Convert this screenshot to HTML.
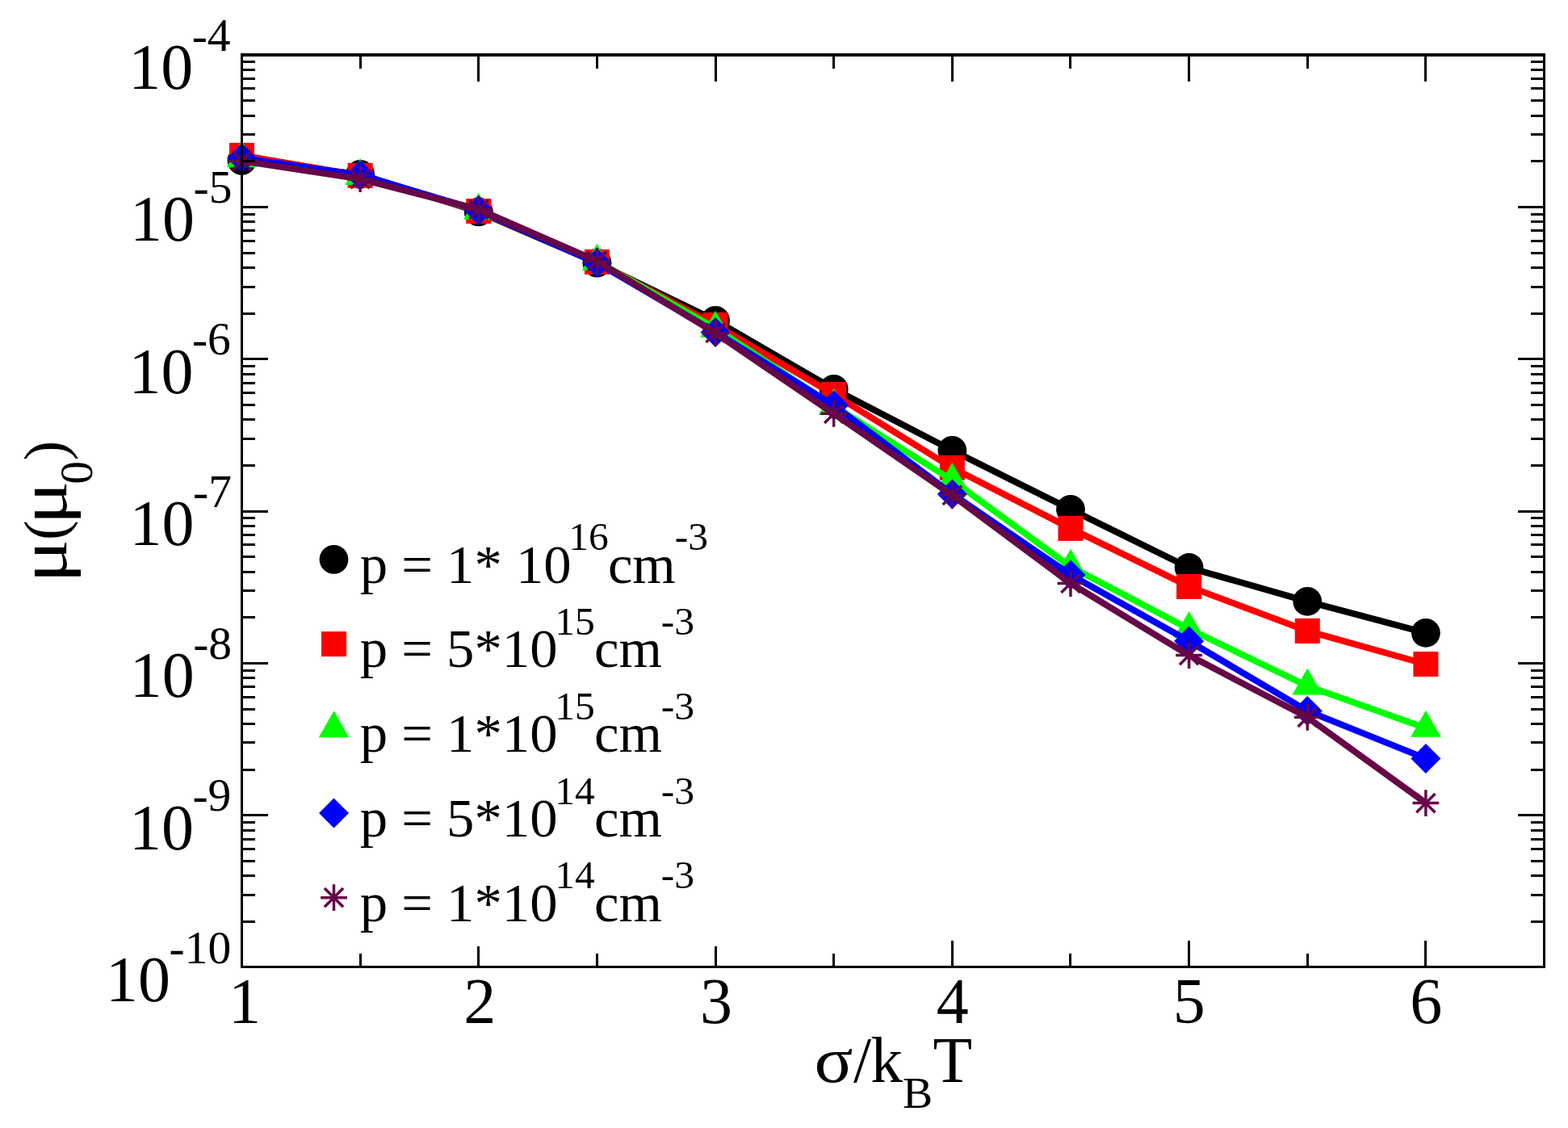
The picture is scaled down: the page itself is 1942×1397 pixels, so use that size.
<!DOCTYPE html>
<html><head><meta charset="utf-8"><title>mobility plot</title>
<style>html,body{margin:0;padding:0;background:#fff;}svg{display:block;}</style>
</head><body>
<svg width="1942" height="1397" viewBox="0 0 1942 1397">
<rect width="1942" height="1397" fill="#ffffff"/>
<polyline points="299.5,198.9 446.14,215.9 592.77,262.4 739.41,325.6 886.05,396.9 1032.68,481.8 1179.32,557.8 1325.95,630.9 1472.59,703 1619.23,744.8 1765.86,783.8" fill="none" stroke="#000000" stroke-width="8" stroke-linejoin="miter" stroke-miterlimit="4"/>
<circle cx="299.5" cy="198.9" r="17.9" fill="#000000"/>
<circle cx="446.14" cy="215.9" r="17.9" fill="#000000"/>
<circle cx="592.77" cy="262.4" r="17.9" fill="#000000"/>
<circle cx="739.41" cy="325.6" r="17.9" fill="#000000"/>
<circle cx="886.05" cy="396.9" r="17.9" fill="#000000"/>
<circle cx="1032.68" cy="481.8" r="17.9" fill="#000000"/>
<circle cx="1179.32" cy="557.8" r="17.9" fill="#000000"/>
<circle cx="1325.95" cy="630.9" r="17.9" fill="#000000"/>
<circle cx="1472.59" cy="703" r="17.9" fill="#000000"/>
<circle cx="1619.23" cy="744.8" r="17.9" fill="#000000"/>
<circle cx="1765.86" cy="783.8" r="17.9" fill="#000000"/>
<polyline points="299.5,192.4 446.14,217.4 592.77,261.5 739.41,324.4 886.05,402.4 1032.68,488.4 1179.32,579.3 1325.95,654.4 1472.59,726.4 1619.23,781.4 1765.86,822.5" fill="none" stroke="#ff0000" stroke-width="8" stroke-linejoin="miter" stroke-miterlimit="4"/>
<rect x="284" y="176.9" width="31" height="31" fill="#ff0000"/>
<rect x="430.64" y="201.9" width="31" height="31" fill="#ff0000"/>
<rect x="577.27" y="246" width="31" height="31" fill="#ff0000"/>
<rect x="723.91" y="308.9" width="31" height="31" fill="#ff0000"/>
<rect x="870.55" y="386.9" width="31" height="31" fill="#ff0000"/>
<rect x="1017.18" y="472.9" width="31" height="31" fill="#ff0000"/>
<rect x="1163.82" y="563.8" width="31" height="31" fill="#ff0000"/>
<rect x="1310.45" y="638.9" width="31" height="31" fill="#ff0000"/>
<rect x="1457.09" y="710.9" width="31" height="31" fill="#ff0000"/>
<rect x="1603.73" y="765.9" width="31" height="31" fill="#ff0000"/>
<rect x="1750.36" y="807" width="31" height="31" fill="#ff0000"/>
<polyline points="299.5,196 446.14,217.9 592.77,260.7 739.41,323.8 886.05,406.7 1032.68,503 1179.32,594.7 1325.95,701.8 1472.59,778.9 1619.23,849.6 1765.86,901.7" fill="none" stroke="#00ff00" stroke-width="8" stroke-linejoin="miter" stroke-miterlimit="4"/>
<path d="M299.5 174L318.3 207L280.7 207Z" fill="#00ff00"/>
<path d="M446.14 195.9L464.94 228.9L427.34 228.9Z" fill="#00ff00"/>
<path d="M592.77 238.7L611.57 271.7L573.97 271.7Z" fill="#00ff00"/>
<path d="M739.41 301.8L758.21 334.8L720.61 334.8Z" fill="#00ff00"/>
<path d="M886.05 384.7L904.85 417.7L867.25 417.7Z" fill="#00ff00"/>
<path d="M1032.68 481L1051.48 514L1013.88 514Z" fill="#00ff00"/>
<path d="M1179.32 572.7L1198.12 605.7L1160.52 605.7Z" fill="#00ff00"/>
<path d="M1325.95 679.8L1344.75 712.8L1307.15 712.8Z" fill="#00ff00"/>
<path d="M1472.59 756.9L1491.39 789.9L1453.79 789.9Z" fill="#00ff00"/>
<path d="M1619.23 827.6L1638.03 860.6L1600.43 860.6Z" fill="#00ff00"/>
<path d="M1765.86 879.7L1784.66 912.7L1747.06 912.7Z" fill="#00ff00"/>
<polyline points="299.5,195.7 446.14,216.8 592.77,260.4 739.41,325.5 886.05,411.4 1032.68,502 1179.32,611.9 1325.95,711.9 1472.59,794 1619.23,880.5 1765.86,939.4" fill="none" stroke="#0000ff" stroke-width="8" stroke-linejoin="miter" stroke-miterlimit="4"/>
<path d="M299.5 177.2L318 195.7L299.5 214.2L281 195.7Z" fill="#0000ff"/>
<path d="M446.14 198.3L464.64 216.8L446.14 235.3L427.64 216.8Z" fill="#0000ff"/>
<path d="M592.77 241.9L611.27 260.4L592.77 278.9L574.27 260.4Z" fill="#0000ff"/>
<path d="M739.41 307L757.91 325.5L739.41 344L720.91 325.5Z" fill="#0000ff"/>
<path d="M886.05 392.9L904.55 411.4L886.05 429.9L867.55 411.4Z" fill="#0000ff"/>
<path d="M1032.68 483.5L1051.18 502L1032.68 520.5L1014.18 502Z" fill="#0000ff"/>
<path d="M1179.32 593.4L1197.82 611.9L1179.32 630.4L1160.82 611.9Z" fill="#0000ff"/>
<path d="M1325.95 693.4L1344.45 711.9L1325.95 730.4L1307.45 711.9Z" fill="#0000ff"/>
<path d="M1472.59 775.5L1491.09 794L1472.59 812.5L1454.09 794Z" fill="#0000ff"/>
<path d="M1619.23 862L1637.73 880.5L1619.23 899L1600.73 880.5Z" fill="#0000ff"/>
<path d="M1765.86 920.9L1784.36 939.4L1765.86 957.9L1747.36 939.4Z" fill="#0000ff"/>
<polyline points="299.5,199.4 446.14,221.6 592.77,259.4 739.41,323.4 886.05,412.4 1032.68,512.3 1179.32,613.3 1325.95,722.5 1472.59,811.6 1619.23,888.3 1765.86,994.6" fill="none" stroke="#670748" stroke-width="8" stroke-linejoin="miter" stroke-miterlimit="4"/>
<path d="M283.1 199.4H315.9M299.5 183V215.8M287.9 187.8L311.1 211M287.9 211L311.1 187.8" stroke="#670748" stroke-width="3.5" fill="none"/>
<path d="M429.74 221.6H462.54M446.14 205.2V238M434.54 210L457.73 233.2M434.54 233.2L457.73 210" stroke="#670748" stroke-width="3.5" fill="none"/>
<path d="M576.37 259.4H609.17M592.77 243V275.8M581.18 247.8L604.37 271M581.18 271L604.37 247.8" stroke="#670748" stroke-width="3.5" fill="none"/>
<path d="M723.01 323.4H755.81M739.41 307V339.8M727.81 311.8L751.01 335M727.81 335L751.01 311.8" stroke="#670748" stroke-width="3.5" fill="none"/>
<path d="M869.65 412.4H902.45M886.05 396V428.8M874.45 400.8L897.64 424M874.45 424L897.64 400.8" stroke="#670748" stroke-width="3.5" fill="none"/>
<path d="M1016.28 512.3H1049.08M1032.68 495.9V528.7M1021.09 500.7L1044.28 523.9M1021.09 523.9L1044.28 500.7" stroke="#670748" stroke-width="3.5" fill="none"/>
<path d="M1162.92 613.3H1195.72M1179.32 596.9V629.7M1167.72 601.7L1190.91 624.9M1167.72 624.9L1190.91 601.7" stroke="#670748" stroke-width="3.5" fill="none"/>
<path d="M1309.55 722.5H1342.35M1325.95 706.1V738.9M1314.36 710.9L1337.55 734.1M1314.36 734.1L1337.55 710.9" stroke="#670748" stroke-width="3.5" fill="none"/>
<path d="M1456.19 811.6H1488.99M1472.59 795.2V828M1460.99 800L1484.19 823.2M1460.99 823.2L1484.19 800" stroke="#670748" stroke-width="3.5" fill="none"/>
<path d="M1602.83 888.3H1635.63M1619.23 871.9V904.7M1607.63 876.7L1630.82 899.9M1607.63 899.9L1630.82 876.7" stroke="#670748" stroke-width="3.5" fill="none"/>
<path d="M1749.46 994.6H1782.26M1765.86 978.2V1011M1754.27 983L1777.46 1006.2M1754.27 1006.2L1777.46 983" stroke="#670748" stroke-width="3.5" fill="none"/>
<g fill="#000000" shape-rendering="crispEdges"><rect x="298" y="66" width="1616" height="4"/><rect x="298" y="1196" width="1616" height="3"/><rect x="298" y="66" width="3" height="1133"/><rect x="1911" y="66" width="3" height="1133"/><rect x="301" y="198.34" width="15" height="3"/><rect x="1896" y="198.34" width="15" height="3"/><rect x="301" y="165.17" width="15" height="3"/><rect x="1896" y="165.17" width="15" height="3"/><rect x="301" y="141.64" width="15" height="3"/><rect x="1896" y="141.64" width="15" height="3"/><rect x="301" y="123.39" width="15" height="3"/><rect x="1896" y="123.39" width="15" height="3"/><rect x="301" y="108.48" width="15" height="3"/><rect x="1896" y="108.48" width="15" height="3"/><rect x="301" y="95.87" width="15" height="3"/><rect x="1896" y="95.87" width="15" height="3"/><rect x="301" y="84.95" width="15" height="3"/><rect x="1896" y="84.95" width="15" height="3"/><rect x="301" y="75.32" width="15" height="3"/><rect x="1896" y="75.32" width="15" height="3"/><rect x="301" y="255.03" width="31" height="3"/><rect x="1880" y="255.03" width="31" height="3"/><rect x="301" y="386.67" width="15" height="3"/><rect x="1896" y="386.67" width="15" height="3"/><rect x="301" y="353.5" width="15" height="3"/><rect x="1896" y="353.5" width="15" height="3"/><rect x="301" y="329.97" width="15" height="3"/><rect x="1896" y="329.97" width="15" height="3"/><rect x="301" y="311.72" width="15" height="3"/><rect x="1896" y="311.72" width="15" height="3"/><rect x="301" y="296.81" width="15" height="3"/><rect x="1896" y="296.81" width="15" height="3"/><rect x="301" y="284.2" width="15" height="3"/><rect x="1896" y="284.2" width="15" height="3"/><rect x="301" y="273.28" width="15" height="3"/><rect x="1896" y="273.28" width="15" height="3"/><rect x="301" y="263.65" width="15" height="3"/><rect x="1896" y="263.65" width="15" height="3"/><rect x="301" y="443.36" width="31" height="3"/><rect x="1880" y="443.36" width="31" height="3"/><rect x="301" y="575" width="15" height="3"/><rect x="1896" y="575" width="15" height="3"/><rect x="301" y="541.83" width="15" height="3"/><rect x="1896" y="541.83" width="15" height="3"/><rect x="301" y="518.3" width="15" height="3"/><rect x="1896" y="518.3" width="15" height="3"/><rect x="301" y="500.05" width="15" height="3"/><rect x="1896" y="500.05" width="15" height="3"/><rect x="301" y="485.14" width="15" height="3"/><rect x="1896" y="485.14" width="15" height="3"/><rect x="301" y="472.53" width="15" height="3"/><rect x="1896" y="472.53" width="15" height="3"/><rect x="301" y="461.61" width="15" height="3"/><rect x="1896" y="461.61" width="15" height="3"/><rect x="301" y="451.98" width="15" height="3"/><rect x="1896" y="451.98" width="15" height="3"/><rect x="301" y="631.69" width="31" height="3"/><rect x="1880" y="631.69" width="31" height="3"/><rect x="301" y="763.33" width="15" height="3"/><rect x="1896" y="763.33" width="15" height="3"/><rect x="301" y="730.16" width="15" height="3"/><rect x="1896" y="730.16" width="15" height="3"/><rect x="301" y="706.63" width="15" height="3"/><rect x="1896" y="706.63" width="15" height="3"/><rect x="301" y="688.38" width="15" height="3"/><rect x="1896" y="688.38" width="15" height="3"/><rect x="301" y="673.47" width="15" height="3"/><rect x="1896" y="673.47" width="15" height="3"/><rect x="301" y="660.86" width="15" height="3"/><rect x="1896" y="660.86" width="15" height="3"/><rect x="301" y="649.94" width="15" height="3"/><rect x="1896" y="649.94" width="15" height="3"/><rect x="301" y="640.31" width="15" height="3"/><rect x="1896" y="640.31" width="15" height="3"/><rect x="301" y="820.02" width="31" height="3"/><rect x="1880" y="820.02" width="31" height="3"/><rect x="301" y="951.66" width="15" height="3"/><rect x="1896" y="951.66" width="15" height="3"/><rect x="301" y="918.49" width="15" height="3"/><rect x="1896" y="918.49" width="15" height="3"/><rect x="301" y="894.96" width="15" height="3"/><rect x="1896" y="894.96" width="15" height="3"/><rect x="301" y="876.71" width="15" height="3"/><rect x="1896" y="876.71" width="15" height="3"/><rect x="301" y="861.8" width="15" height="3"/><rect x="1896" y="861.8" width="15" height="3"/><rect x="301" y="849.19" width="15" height="3"/><rect x="1896" y="849.19" width="15" height="3"/><rect x="301" y="838.27" width="15" height="3"/><rect x="1896" y="838.27" width="15" height="3"/><rect x="301" y="828.64" width="15" height="3"/><rect x="1896" y="828.64" width="15" height="3"/><rect x="301" y="1008.35" width="31" height="3"/><rect x="1880" y="1008.35" width="31" height="3"/><rect x="301" y="1139.99" width="15" height="3"/><rect x="1896" y="1139.99" width="15" height="3"/><rect x="301" y="1106.82" width="15" height="3"/><rect x="1896" y="1106.82" width="15" height="3"/><rect x="301" y="1083.29" width="15" height="3"/><rect x="1896" y="1083.29" width="15" height="3"/><rect x="301" y="1065.04" width="15" height="3"/><rect x="1896" y="1065.04" width="15" height="3"/><rect x="301" y="1050.13" width="15" height="3"/><rect x="1896" y="1050.13" width="15" height="3"/><rect x="301" y="1037.52" width="15" height="3"/><rect x="1896" y="1037.52" width="15" height="3"/><rect x="301" y="1026.6" width="15" height="3"/><rect x="1896" y="1026.6" width="15" height="3"/><rect x="301" y="1016.97" width="15" height="3"/><rect x="1896" y="1016.97" width="15" height="3"/><rect x="591.27" y="70" width="3" height="31"/><rect x="591.27" y="1172" width="3" height="24"/><rect x="884.55" y="70" width="3" height="31"/><rect x="884.55" y="1172" width="3" height="24"/><rect x="1177.82" y="70" width="3" height="31"/><rect x="1177.82" y="1165" width="3" height="31"/><rect x="1471.09" y="70" width="3" height="31"/><rect x="1471.09" y="1165" width="3" height="31"/><rect x="1764.36" y="70" width="3" height="31"/><rect x="1764.36" y="1165" width="3" height="31"/><rect x="444.64" y="70" width="3" height="15"/><rect x="444.64" y="1181" width="3" height="15"/><rect x="737.91" y="70" width="3" height="15"/><rect x="737.91" y="1181" width="3" height="15"/><rect x="1031.18" y="70" width="3" height="15"/><rect x="1031.18" y="1181" width="3" height="15"/><rect x="1324.45" y="70" width="3" height="15"/><rect x="1324.45" y="1181" width="3" height="15"/><rect x="1617.73" y="70" width="3" height="15"/><rect x="1617.73" y="1181" width="3" height="15"/></g>
<g font-family='"Liberation Serif", "DejaVu Serif", serif' fill="#000000"><text x="159.22" y="109.9" font-size="80">10</text><text x="237.72" y="62.7" font-size="57.5">-4</text><text x="161.12" y="298.23" font-size="80">10</text><text x="239.62" y="251.03" font-size="57.5">-5</text><text x="159.44" y="486.56" font-size="80">10</text><text x="237.94" y="439.36" font-size="57.5">-6</text><text x="160.51" y="674.89" font-size="80">10</text><text x="239.01" y="627.69" font-size="57.5">-7</text><text x="160.73" y="863.22" font-size="80">10</text><text x="239.23" y="816.02" font-size="57.5">-8</text><text x="159.95" y="1051.55" font-size="80">10</text><text x="238.45" y="1004.35" font-size="57.5">-9</text><text x="131" y="1239.88" font-size="80">10</text><text x="209.5" y="1192.68" font-size="57.5">-10</text><text x="282.94" y="1267" font-size="80">1</text><text x="574.2" y="1267" font-size="80">2</text><text x="867" y="1267" font-size="80">3</text><text x="1159.69" y="1267" font-size="80">4</text><text x="1452.64" y="1267" font-size="80">5</text><text x="1746.32" y="1267" font-size="80">6</text></g>
<g font-family='"Liberation Serif", "DejaVu Serif", serif' fill="#000000"><text x="900.43" y="1340" font-size="79.5" transform="scale(1.12,1)">σ</text><text x="1057.11" y="1340" font-size="79.5">/</text><text x="1078.27" y="1340" font-size="79.5">k</text><text x="1117.95" y="1371.8" font-size="55.8">B</text><text x="1155.61" y="1340" font-size="79.5">T</text><text transform="translate(81.7,0) rotate(-90) scale(1.26,1.06)" x="-572.75" y="0" font-size="79.5">μ</text><text transform="translate(80.9,0) rotate(-90) scale(1,1)" x="-669.05" y="0" font-size="74">(</text><text transform="translate(81.7,0) rotate(-90) scale(1.26,1.06)" x="-515.44" y="0" font-size="79.5">μ</text><text transform="translate(113.9,0) rotate(-90) scale(1,1)" x="-599.67" y="0" font-size="57.5">0</text><text transform="translate(80.9,0) rotate(-90) scale(1,1)" x="-570.39" y="0" font-size="74">)</text></g>
<g font-family='"Liberation Serif", "DejaVu Serif", serif' fill="#000000"><circle cx="413.5" cy="692.9" r="17.9" fill="#000000"/><text x="445.7" y="721.7" font-size="68.7" xml:space="preserve">p = 1* 10</text><text x="704.29" y="681.4" font-size="49.5">16</text><text x="752.89" y="721.7" font-size="68.7">cm</text><text x="835.74" y="681.4" font-size="49.5">-3</text><rect x="398" y="782.1" width="31" height="31" fill="#ff0000"/><text x="445.7" y="826.4" font-size="68.7" xml:space="preserve">p = 5*10</text><text x="687.34" y="786.1" font-size="49.5">15</text><text x="735.94" y="826.4" font-size="68.7">cm</text><text x="818.79" y="786.1" font-size="49.5">-3</text><path d="M413.5 880.3L432.3 913.3L394.7 913.3Z" fill="#00ff00"/><text x="445.7" y="931.1" font-size="68.7" xml:space="preserve">p = 1*10</text><text x="687.34" y="890.8" font-size="49.5">15</text><text x="735.94" y="931.1" font-size="68.7">cm</text><text x="818.79" y="890.8" font-size="49.5">-3</text><path d="M413.5 988.5L432 1007L413.5 1025.5L395 1007Z" fill="#0000ff"/><text x="445.7" y="1035.8" font-size="68.7" xml:space="preserve">p = 5*10</text><text x="687.34" y="995.5" font-size="49.5">14</text><text x="735.94" y="1035.8" font-size="68.7">cm</text><text x="818.79" y="995.5" font-size="49.5">-3</text><path d="M397.1 1111.7H429.9M413.5 1095.3V1128.1M401.9 1100.1L425.1 1123.3M401.9 1123.3L425.1 1100.1" stroke="#670748" stroke-width="3.5" fill="none"/><text x="445.7" y="1140.5" font-size="68.7" xml:space="preserve">p = 1*10</text><text x="687.34" y="1100.2" font-size="49.5">14</text><text x="735.94" y="1140.5" font-size="68.7">cm</text><text x="818.79" y="1100.2" font-size="49.5">-3</text></g>
</svg>
</body></html>
